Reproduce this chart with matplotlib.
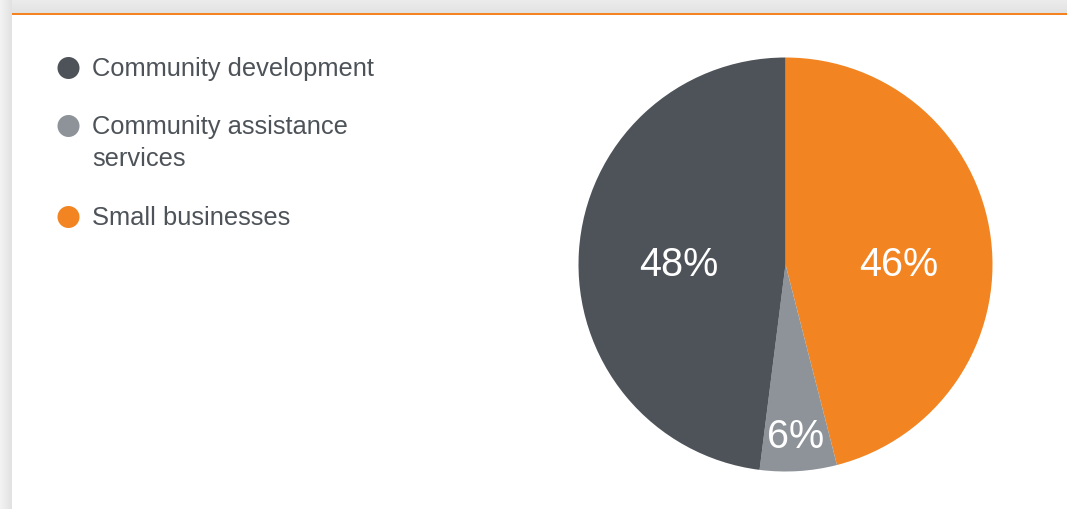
import matplotlib
matplotlib.use("Agg")
import matplotlib.pyplot as plt
from matplotlib.patches import Rectangle, Circle

plt.rcParams['font.family'] = ['Liberation Sans', 'DejaVu Sans']

# Share of funding by program area
categories = ["Small businesses", "Community assistance services", "Community development"]
shares = [46, 6, 48]
colors = ["#f28522", "#8d9399", "#4d5359"]

legend_labels = ["Community development", "Community assistance\nservices", "Small businesses"]
legend_colors = ["#4d5359", "#8d9399", "#f28522"]

W, H = 1067, 510
fig = plt.figure(figsize=(W / 100, H / 100), dpi=100)
fig.patch.set_facecolor("#ebebeb")

# Card background with a soft shadow on the left and top
bg = fig.add_axes([0, 0, 1, 1])
bg.set_xlim(0, W)
bg.set_ylim(H, 0)
bg.axis("off")
for i in range(12):
    shade = 0.95 - 0.006 * i
    bg.add_patch(Rectangle((i, 0), 1, H, color=(shade, shade, shade), lw=0))
for j in range(14):
    shade = 0.925 - 0.003 * j
    bg.add_patch(Rectangle((12, j), W, 1, color=(shade, shade, shade), lw=0))
bg.add_patch(Rectangle((12, 14), W - 12, H - 14, color="white", lw=0))
bg.add_patch(Rectangle((12, 14), W - 12, 2, color="#f58220", lw=0))

# Legend: dot plus one text row per line
legend_y = [68, 126, 217]
line_step = 32
for lab, col, y in zip(legend_labels, legend_colors, legend_y):
    bg.add_patch(Circle((68.5, y + 1), 11, color=col, lw=0))
    for k, line in enumerate(lab.split("\n")):
        bg.text(92, y + 1 + k * line_step, line, fontsize=18.4, color="#4d5359",
                va="center", ha="left")

# Pie
cx, cy, r = 785.5, 265.5, 207
ax = fig.add_axes([(cx - r) / W, (H - cy - r) / H, 2 * r / W, 2 * r / H])
ax.pie(shares, colors=colors, startangle=90, counterclock=False, radius=1,
       wedgeprops=dict(linewidth=0))
ax.set_xlim(-1, 1)
ax.set_ylim(-1, 1)
ax.set_aspect("equal")
ax.axis("off")

label_pos = {"Small businesses": (0.545, 0.0), "Community assistance services": (0.05, -0.83),
             "Community development": (-0.515, 0.0)}
for cat, val in zip(categories, shares):
    x, y = label_pos[cat]
    ax.text(x, y, f"{val}%", fontsize=28.5, color="white", ha="center", va="center")

fig.savefig("out.png", dpi=100, facecolor=fig.get_facecolor())
